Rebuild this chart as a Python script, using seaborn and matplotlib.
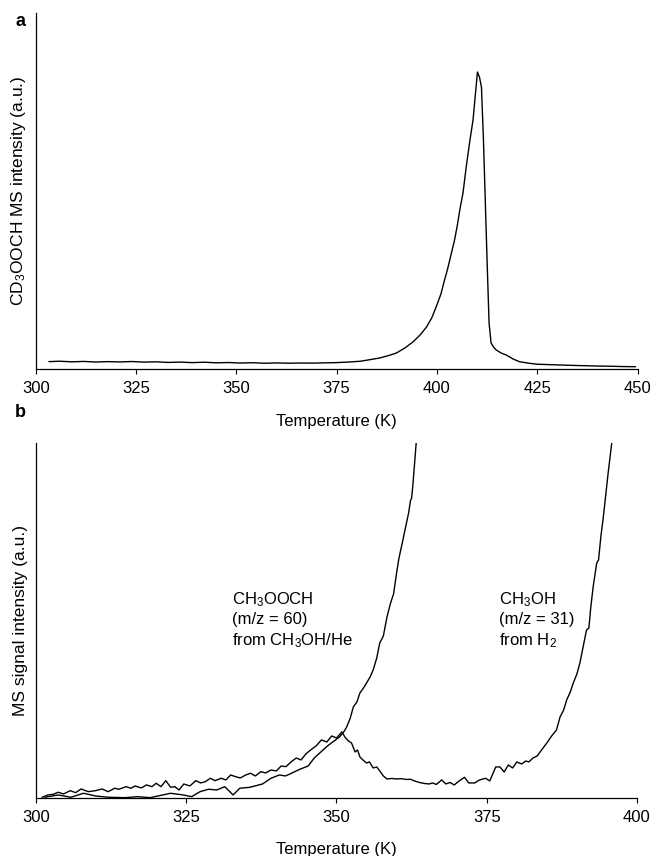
import numpy as np
import pandas as pd
import matplotlib
matplotlib.use("Agg")
import matplotlib.pyplot as plt
import seaborn as sns

# ---- panel a: CD3OOCH desorption trace ----
temp_a = [303.3, 306, 309, 312, 315, 318, 321, 324, 327, 330, 333, 336, 339, 342,
          345, 348, 351, 354, 357, 360, 363, 366, 369, 372, 375, 378, 381,
          383.5, 385.7, 388, 389.9, 392, 394, 395.8, 397.4, 398.7, 399.8, 401,
          401.9, 402.6, 403.2, 403.8, 404.4, 405.1, 405.7, 406.5, 407.3, 408.2,
          409.0, 409.6, 410.1, 410.6, 411.1, 411.6, 412.1, 412.6, 413.0, 413.5,
          414.1, 414.8, 416, 417.3, 419, 420.6, 423.1, 425, 428, 431, 434, 437,
          440, 443, 446, 449.5]
signal_a = [7.4, 7.8, 7.2, 7.6, 7.0, 7.4, 7.1, 7.5, 6.9, 7.2, 6.6, 6.9, 6.4, 6.8,
            6.2, 6.5, 6.0, 6.3, 5.8, 6.1, 5.8, 6.0, 5.9, 6.2, 6.4, 7.0, 7.8,
            9.5, 11, 13.5, 16, 21, 27, 34, 42, 51, 62, 75,
            89, 99, 109, 119, 129, 144, 159, 176, 202, 228,
            249, 275, 297, 292, 282, 229, 162, 96, 46, 26,
            22, 19, 16, 14, 10, 7.3, 5.7, 4.8, 4.4, 4.0, 3.6, 3.3,
            3.0, 2.8, 2.5, 2.3]

# ---- panel b: CH3OOCH (m/z = 60) from CH3OH/He ----
temp_m60 = [301.5, 303.7, 305.8, 307.9, 309.9, 312.0, 314.8, 316.9, 319.0, 321.1,
            322.4, 324.5, 325.9, 327.3, 328.7, 330.1, 331.4, 332.8, 333.9, 335.6,
            337.7, 339.1, 340.5, 341.5, 342.5, 343.9, 345.3, 346.3, 347.4, 348.5,
            349.6, 350.5, 351.2, 351.7, 352.3, 352.8, 353.4, 353.9, 354.5, 355.0,
            355.6, 356.1, 356.7, 357.2, 357.8, 358.4, 359.0, 359.5, 360.0, 360.4,
            360.8, 361.4, 362.0, 362.3, 362.5, 362.7, 363.0, 363.3, 363.6]
signal_m60 = [0.7, 3.0, 0.7, 4.7, 2.0, 0.7, 0.3, 1.3, 0.3, 3.0,
              4.7, 3.0, 1.3, 6.3, 8.7, 8.0, 11.3, 3.0, 9.7, 10.7,
              14.0, 19.7, 23.0, 22.0, 24.7, 28.7, 32.0, 40, 46, 52,
              57, 61, 66, 71, 80, 91, 96, 105, 110, 115,
              121, 128, 140, 155, 162, 181, 195, 204, 225, 240,
              251, 268, 285, 297, 300, 312, 335, 358, 380]

# ---- panel b: CH3OH (m/z = 31) from H2 ----
temp_m31 = [301.0, 302.0, 302.9, 303.7, 304.6, 305.7, 306.6, 307.5, 308.7, 309.9,
            311.0, 312.0, 313.1, 313.8, 315.0, 315.8, 316.5, 317.5, 318.4, 319.3,
            320.0, 320.8, 321.6, 322.4, 323.1, 323.8, 324.6, 325.6, 326.6, 327.4,
            328.2, 329.0, 329.8, 330.8, 331.6, 332.4, 333.2, 334.0, 334.9, 335.7,
            336.5, 337.4, 338.2, 339.1, 340.0, 340.8, 341.6, 342.5, 343.3, 344.1,
            344.9, 345.7, 346.6, 347.5, 348.4, 349.2, 350.0, 350.9, 351.5, 352.0,
            352.5, 353.1, 353.5, 353.9, 354.4, 355.0, 355.5, 356.1, 356.7, 357.2,
            357.8, 358.4, 359.2, 360.0, 360.8, 361.6, 362.3, 363.0, 363.8, 364.6,
            365.4, 366.0, 366.6, 367.5, 368.2, 368.9, 369.6, 370.4, 371.3, 372.0,
            373.0, 373.8, 374.8, 375.5, 376.5, 377.2, 377.9, 378.6, 379.3, 380.0,
            380.8, 381.5, 382.0, 382.7, 383.4, 384.0, 385.0, 385.8, 386.6, 387.2,
            387.8, 388.3, 388.9, 389.4, 390.0, 390.5, 391.0, 391.6, 392.0, 392.3,
            392.7, 393.3, 393.6, 394.0, 394.4, 394.8, 395.2, 395.5, 395.8, 396.1]
signal_m31 = [0.7, 3.0, 3.7, 5.7, 4.0, 7.3, 5.3, 9.0, 6.3, 7.3,
              9.0, 6.3, 9.7, 8.7, 11.3, 9.7, 12.0, 10.0, 13.0, 11.3,
              14.7, 11.3, 17.3, 10.7, 11.3, 8.0, 14.0, 12.0, 17.3, 15.0,
              16.3, 19.7, 17.3, 19.7, 18.0, 23.0, 21.3, 20.0, 23.0, 24.7,
              22.0, 26.3, 25.0, 28.0, 27.0, 32.0, 31.3, 36.3, 40.0, 38.0,
              44.0, 48.0, 52.0, 58.0, 56.0, 62.0, 60.0, 66.0, 60.0, 57.0,
              55.0, 46.0, 48.0, 41.0, 38.0, 35.0, 36.0, 30.0, 31.0, 27.0,
              22.0, 19.0, 19.5, 19.0, 19.3, 18.5, 18.7, 17.0, 15.5, 14.5,
              14.0, 15.0, 13.5, 18.0, 14.0, 15.5, 13.0, 17.0, 20.7, 15.0,
              15.0, 18.0, 19.7, 17.0, 31.0, 31.0, 26.0, 33.0, 30.0, 36.0,
              34.0, 37.0, 36.0, 40.0, 42.0, 47.0, 55.0, 62.0, 68.0, 81.0,
              88.0, 98.0, 106.0, 115.0, 124.0, 135.0, 150.0, 168.0, 170.0, 190.0,
              211.0, 235.0, 238.0, 262.0, 281.0, 303.0, 325.0, 340.0, 355.0, 375.0]

ticks_a = [300, 325, 350, 375, 400, 425, 450]
ticks_b = [300, 325, 350, 375, 400]

df_a = pd.DataFrame({"T": temp_a, "I": signal_a})
df_b = pd.concat([
    pd.DataFrame({"T": temp_m60, "I": signal_m60, "trace": "m60"}),
    pd.DataFrame({"T": temp_m31, "I": signal_m31, "trace": "m31"}),
])

sns.set_theme(style="ticks")
plt.rcParams["font.family"] = ["Liberation Sans", "DejaVu Sans"]
plt.rcParams["mathtext.default"] = "regular"
plt.rcParams["text.color"] = "black"
plt.rcParams["axes.labelcolor"] = "black"
plt.rcParams["xtick.color"] = "black"

fig = plt.figure(figsize=(6.54, 8.56), dpi=100)
ax_a = fig.add_axes([0.0546, 0.5689, 0.9202, 0.4159])
ax_b = fig.add_axes([0.0550, 0.0678, 0.9190, 0.4147])

line_kw = dict(color="black", linewidth=1.0, estimator=None, legend=False)
sns.lineplot(data=df_a, x="T", y="I", ax=ax_a, **line_kw)
sns.lineplot(data=df_b, x="T", y="I", units="trace", ax=ax_b, **line_kw)

ax_a.set_xlim(300, 450)
ax_a.set_ylim(0, 356)
ax_a.set_xticks(ticks_a)
ax_b.set_xlim(300, 400)
ax_b.set_ylim(0, 355)
ax_b.set_xticks(ticks_b)

for ax, ylab in [(ax_a, "CD$_{3}$OOCH MS intensity (a.u.)"),
                 (ax_b, "MS signal intensity (a.u.)")]:
    ax.set_yticks([])
    ax.set_xlabel("Temperature (K)", fontsize=12)
    ax.set_ylabel(ylab, fontsize=12.5)
    ax.xaxis.set_label_coords(0.5, -0.125)
    ax.yaxis.set_label_coords(-0.013, 0.5)
    ax.tick_params(axis="x", direction="out", length=3.5, width=0.8,
                   pad=5, labelsize=12, color="black")
    sns.despine(ax=ax, top=True, right=True)
    for s in ("left", "bottom"):
        ax.spines[s].set_linewidth(0.9)
        ax.spines[s].set_color("black")

ax_b.text(332.6, 208, "CH$_{3}$OOCH\n(m/z = 60)\nfrom CH$_{3}$OH/He",
          fontsize=12, ha="left", va="top", linespacing=1.3)
ax_b.text(377.1, 208, "CH$_{3}$OH\n(m/z = 31)\nfrom H$_{2}$",
          fontsize=12, ha="left", va="top", linespacing=1.3)

fig.text(20 / 654, 1 - 21 / 856, "a", fontsize=13, fontweight="bold",
         ha="center", va="center")
fig.text(20 / 654, 1 - 413 / 856, "b", fontsize=13, fontweight="bold",
         ha="center", va="center")

fig.savefig("out.png", dpi=100)
plt.close(fig)
